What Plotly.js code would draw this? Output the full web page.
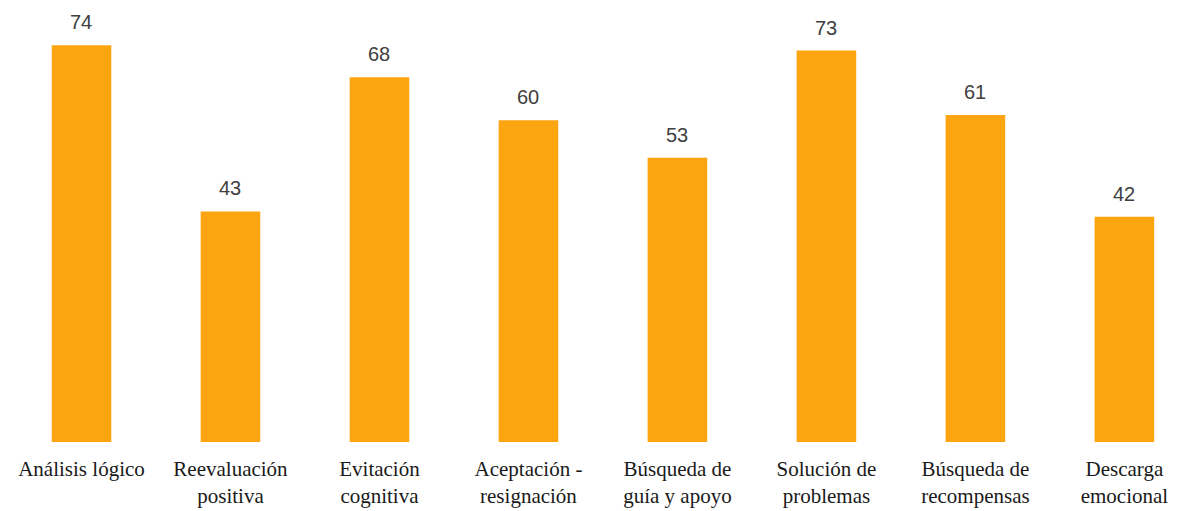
<!DOCTYPE html>
<html>
<head>
<meta charset="utf-8">
<script src="https://cdn.plot.ly/plotly-3.0.1.min.js"></script>
<style>
  html, body { margin: 0; padding: 0; background: #ffffff; }
  #chart { width: 1181px; height: 511px; }
</style>
</head>
<body>
<div id="chart"></div>
<script>
// Estrategias de afrontamiento y sus puntuaciones
const categories = [
  "Análisis lógico",
  "Reevaluación<br>positiva",
  "Evitación<br>cognitiva",
  "Aceptación -<br>resignación",
  "Búsqueda de<br>guía y apoyo",
  "Solución de<br>problemas",
  "Búsqueda de<br>recompensas",
  "Descarga<br>emocional"
];
const values = [74, 43, 68, 60, 53, 73, 61, 42];

const barColor = "#FDA511";

const trace = {
  type: "bar",
  x: categories,
  y: values,
  marker: { color: barColor, line: { width: 0 } },
  hoverinfo: "skip"
};

// Etiquetas de valor sobre cada barra
const valueLabels = categories.map((c, i) => ({
  x: c,
  y: values[i],
  xref: "x",
  yref: "y",
  text: String(values[i]),
  showarrow: false,
  yanchor: "bottom",
  yshift: 10,
  font: { family: "Liberation Sans, Arial, sans-serif", size: 20, color: "#404040" }
}));

const layout = {
  width: 1181,
  height: 511,
  margin: { l: 7, r: 0, t: 13, b: 69 },
  paper_bgcolor: "#ffffff",
  plot_bgcolor: "#ffffff",
  showlegend: false,
  bargap: 0.6,
  xaxis: {
    type: "category",
    range: [-0.5, 7.38],
    showgrid: false,
    zeroline: false,
    showline: false,
    ticks: "",
    ticklabelstandoff: 12,
    tickfont: { family: "Liberation Serif, Times New Roman, serif", size: 21, color: "#1a1a1a" }
  },
  yaxis: {
    range: [0, 80],
    showgrid: false,
    zeroline: false,
    showline: false,
    showticklabels: false,
    ticks: ""
  },
  annotations: valueLabels
};

Plotly.newPlot("chart", [trace], layout, { displayModeBar: false, staticPlot: true });
</script>
</body>
</html>
